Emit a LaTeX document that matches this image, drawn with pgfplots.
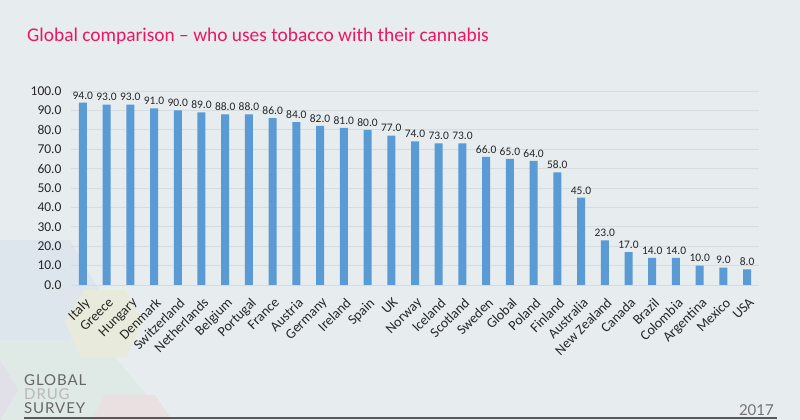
\documentclass[border=0pt]{standalone}
\usepackage{pgfplots}
\pgfplotsset{compat=1.18}
\usepackage{fontspec}
\setmainfont{Carlito}
\newfontfamily\logofont[LetterSpace=6]{Lato}
\newfontfamily\yearfont{Lato}
\definecolor{bg}{HTML}{E7EDEF}
\definecolor{barblue}{HTML}{5B9BD5}
\definecolor{titlepink}{HTML}{EB1763}
\definecolor{gridc}{HTML}{D6DCDE}
\definecolor{decoblue}{HTML}{DCE6EC}
\definecolor{decogreen}{HTML}{DFE9E5}
\definecolor{decoyellow}{HTML}{E8EBDC}
\definecolor{decolav}{HTML}{E1E0E9}
\definecolor{decopink}{HTML}{EADFE1}
\begin{document}
\begin{tikzpicture}[x=1pt,y=1pt]
\fill[bg] (0,0) rectangle (800,420);
\useasboundingbox (0,0) rectangle (800,420);
% decorative shapes (y = 420 - pixel row)
\fill[decoblue] (0,180) -- (70,180) -- (105,120) -- (70,80) -- (0,80) -- cycle;
\fill[decogreen] (0,80) -- (100,80) -- (168,0) -- (0,0) -- cycle;
\fill[decoyellow] (65,98) -- (84,130) -- (125,130) -- (143,98) -- (127,63) -- (80,63) -- cycle;
\fill[decolav] (0,60) -- (18,30) -- (0,0) -- cycle;
\fill[decopink] (105,25) -- (155,25) -- (172,0) -- (92,0) -- cycle;
\node[anchor=base west, text=titlepink, font=\fontsize{19.4}{24}\selectfont, inner sep=0] at (27,378) {Global comparison – who uses tobacco with their cannabis};
\begin{axis}[
  at={(71pt,135pt)}, anchor=south west,
  scale only axis, width=688pt, height=194pt,
  ybar, bar width=8pt,
  ymin=0, ymax=100, ytick={0,10,...,100},
  xmin=-0.5, xmax=28.5, enlarge x limits=false,
  xtick={0,...,28},
  xticklabels={Italy,Greece,Hungary,Denmark,Switzerland,Netherlands,Belgium,Portugal,France,Austria,Germany,Ireland,Spain,UK,Norway,Iceland,Scotland,Sweden,Global,Poland,Finland,Australia,New Zealand,Canada,Brazil,Colombia,Argentina,Mexico,USA},
  x tick label style={xshift=1pt, yshift=-11pt, rotate=45, anchor=north east, font=\fontsize{14}{14}\selectfont, inner sep=0.5pt, text=black!85},
  y tick label style={xshift=-6pt, text=black!85, font=\fontsize{13.5}{14}\selectfont, /pgf/number format/.cd, fixed, fixed zerofill, precision=1, assume math mode=true},
  major tick length=0pt,
  axis line style={draw=none},
  ymajorgrids, grid style={gridc, line width=0.8pt},
  nodes near coords,
  nodes near coords style={font=\fontsize{11.5}{12}\selectfont, text=black!85, /pgf/number format/.cd, fixed, fixed zerofill, precision=1, assume math mode=true},
  clip=false,
]
\addplot[fill=barblue, draw=none] coordinates {
(0,94) (1,93) (2,93) (3,91) (4,90) (5,89) (6,88) (7,88) (8,86) (9,84)
(10,82) (11,81) (12,80) (13,77) (14,74) (15,73) (16,73) (17,66) (18,65) (19,64)
(20,58) (21,45) (22,23) (23,17) (24,14) (25,14) (26,10) (27,9) (28,8)};
\end{axis}
\draw[line width=2.2pt, color=black!65] (24,2) -- (777,2);
\node[anchor=base west, inner sep=0, text=black!60, font=\logofont\fontsize{15}{15}\selectfont] at (24,34) {GLOBAL};
\node[anchor=base west, inner sep=0, text=black!28, font=\logofont\fontsize{15}{15}\selectfont] at (24,20) {DRUG};
\node[anchor=base west, inner sep=0, text=black!60, font=\logofont\fontsize{15}{15}\selectfont] at (24,6) {SURVEY};
\node[anchor=base east, inner sep=0, text=black!55, font=\yearfont\fontsize{15}{15}\selectfont] at (774,5) {2017};
\end{tikzpicture}
\end{document}
